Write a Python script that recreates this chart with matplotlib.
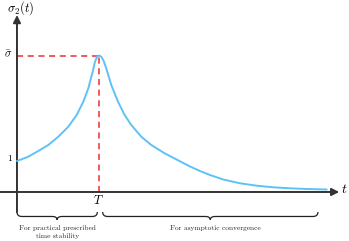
import matplotlib
matplotlib.use("Agg")
import matplotlib.pyplot as plt
from matplotlib.path import Path
from matplotlib.patches import PathPatch

plt.rcParams['mathtext.fontset'] = 'cm'

# curve samples (t in units of T, sigma in units of sigma(0))
t_vals = [0.000, 0.138, 0.260, 0.382, 0.504, 0.626, 0.728, 0.809, 0.870, 0.918,
          0.951, 0.976, 1.000, 1.028, 1.055, 1.089, 1.150, 1.232, 1.313, 1.394,
          1.516, 1.638, 1.801, 2.004, 2.110, 2.232, 2.354, 2.516, 2.720, 2.923,
          3.126, 3.329, 3.533, 3.777]
sigma_vals = [1.000, 1.139, 1.323, 1.516, 1.784, 2.106, 2.484, 2.913, 3.345, 3.829,
              4.194, 4.355, 4.403, 4.365, 4.242, 3.990, 3.452, 2.913, 2.484, 2.161,
              1.784, 1.516, 1.248, 0.968, 0.823, 0.677, 0.548, 0.403, 0.281, 0.203,
              0.152, 0.119, 0.097, 0.081]
T = 1.0
sigma_bar = 4.403
brace_end = 3.67
tick_labels_y = ['1', r'$\bar{\sigma}$']
brace_labels = ['For practical prescribed\ntime stability', 'For asymptotic convergence']

fig = plt.figure(figsize=(3.49, 2.41), dpi=100)
ax = fig.add_axes([0, 0, 1, 1])
ax.set_xlim(-0.207, 4.049)
ax.set_ylim(-1.581, 6.194)
ax.axis('off')

axis_col = '#333333'
# axes with arrows
ax.annotate('', xy=(3.93, 0), xytext=(-0.207, 0),
            arrowprops=dict(arrowstyle='-|>', color=axis_col, lw=1.4,
                            mutation_scale=11, shrinkA=0, shrinkB=0))
ax.annotate('', xy=(0, 5.71), xytext=(0, -0.645),
            arrowprops=dict(arrowstyle='-|>', color=axis_col, lw=1.4,
                            mutation_scale=11, shrinkA=0, shrinkB=0))

# dashed guide lines
red = '#e8302e'
ax.plot([0, T], [sigma_bar, sigma_bar], ls=(0, (4, 3)), color=red, lw=1.1)
ax.plot([T, T], [0, sigma_bar], ls=(0, (4, 3)), color=red, lw=1.1)

# curve
ax.plot(t_vals, sigma_vals, color='#5ec2f7', lw=1.4, solid_joinstyle='round',
        solid_capstyle='round', zorder=3)

# labels
ax.text(0.049, 5.94, r'$\sigma_2(t)$', fontsize=9, ha='center', va='center')
ax.text(3.995, 0.097, r'$t$', fontsize=10, ha='center', va='center')
ax.text(-0.085, 1.065, tick_labels_y[0], fontsize=7, ha='center', va='center', family='cmr10')
ax.text(-0.11, sigma_bar + 0.02, tick_labels_y[1], fontsize=8, ha='center', va='center')
ax.text(T - 0.01, -0.26, r'$T$', fontsize=9, ha='center', va='center')

def brace(x0, x1, ytop=-0.645, yline=-0.79, ytip=-0.90, r=0.06):
    xm = (x0 + x1) / 2
    verts = [(x0, ytop), (x0, yline), (x0 + r, yline),
             (xm - r, yline), (xm, yline), (xm, ytip),
             (xm, yline), (xm + r, yline),
             (x1 - r, yline), (x1, yline), (x1, ytop)]
    codes = [Path.MOVETO, Path.CURVE3, Path.CURVE3,
             Path.LINETO, Path.CURVE3, Path.CURVE3,
             Path.CURVE3, Path.CURVE3,
             Path.LINETO, Path.CURVE3, Path.CURVE3]
    ax.add_patch(PathPatch(Path(verts, codes), fill=False, lw=0.9, color='#222222'))
    return xm

m1 = brace(0.0, T - 0.02)
m2 = brace(T + 0.045, brace_end)
ax.text(m1, -1.29, brace_labels[0], fontsize=5.3, ha='center', va='center',
        family='cmr10', linespacing=1.3, color='#222222')
ax.text(m2 + 0.06, -1.16, brace_labels[1], fontsize=5.3, ha='center', va='center',
        family='cmr10', color='#222222')

fig.savefig('out.png', dpi=100)
